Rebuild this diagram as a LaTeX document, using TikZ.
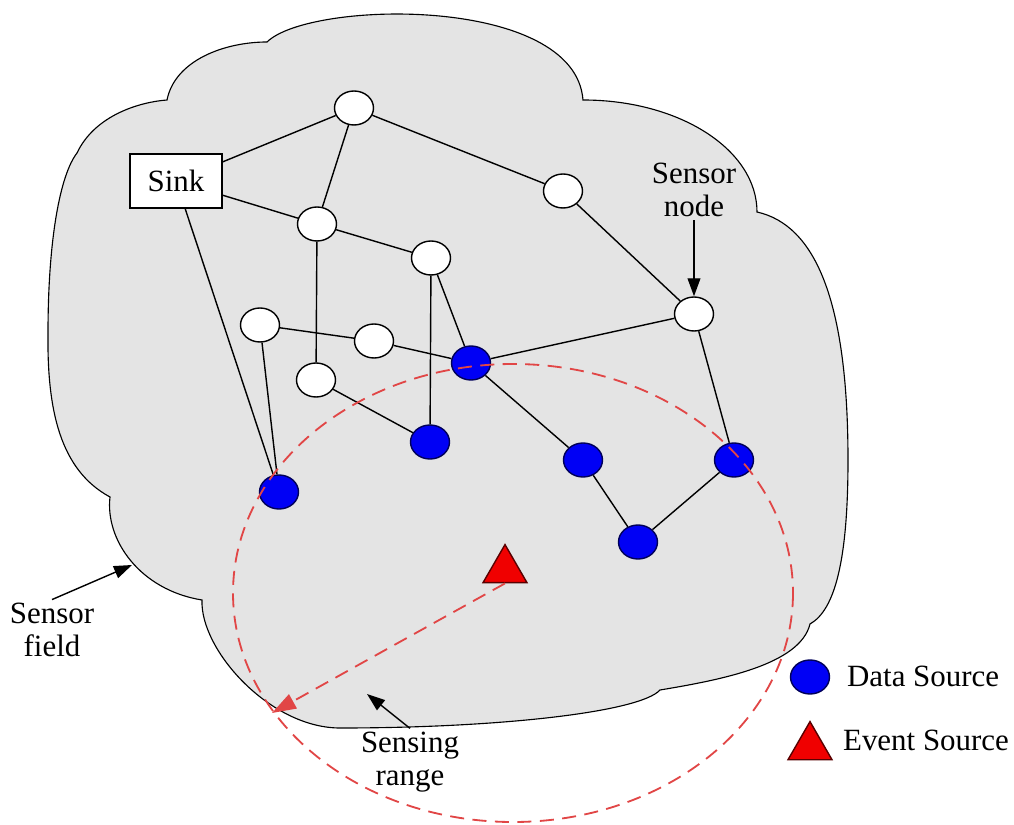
\documentclass[tikz,border=0pt]{standalone}
\usepackage{fontspec}
\setmainfont{Liberation Serif}
\usetikzlibrary{shapes.geometric,arrows.meta}

\definecolor{champ}{RGB}{228,228,228}
\definecolor{bleu}{RGB}{0,0,245}
\definecolor{rouge}{RGB}{240,0,0}
\definecolor{portee}{RGB}{225,70,70}

\begin{document}
\begin{tikzpicture}[x=0.25mm, y=-0.25mm, line width=1pt, font=\fontsize{22}{23.5}\selectfont]
        % Styles des sommets et des flèches
        \tikzstyle{capteur}=[ellipse, draw, fill=white, minimum width=9.75mm, minimum height=8.5mm, inner sep=0pt]
        \tikzstyle{source}=[ellipse, draw=blue!35!black, fill=bleu, minimum width=9.75mm, minimum height=8.5mm, inner sep=0pt]
        \tikzstyle{evenement}=[regular polygon, regular polygon sides=3, draw=red!35!black, fill=rouge, minimum size=12.7mm, inner sep=0pt]
        \tikzstyle{fleche}=[-{Triangle[length=4.5mm, width=3.2mm]}]
        \tikzstyle{etiquette}=[align=center, inner sep=2pt]
        \tikzstyle{portee}=[draw=portee, line width=1.3pt, dash pattern=on 10pt off 6pt]

        \useasboundingbox (0,0) rectangle (1014,825);

        % Champ de capteurs
        \filldraw[fill=champ, line width=0.8pt]
            (267,42) .. controls (310,0) and (575,-5) .. (583,100)
            .. controls (680,100) and (757,150) .. (757,212)
            .. controls (815,225) and (848,300) .. (848,460)
            .. controls (848,560) and (835,610) .. (810,624)
            .. controls (800,665) and (720,680) .. (660,690)
            .. controls (640,712) and (500,728) .. (340,728)
            .. controls (270,728) and (200,650) .. (202,600)
            .. controls (140,590) and (105,540) .. (110,497)
            .. controls (60,470) and (47,410) .. (48,333)
            .. controls (48,240) and (60,175) .. (77,153)
            .. controls (95,115) and (140,102) .. (167,100)
            .. controls (175,60) and (225,42) .. (267,42)
            -- cycle;

        % Nœuds
        \node[draw, fill=white, minimum width=23mm, minimum height=13.5mm, inner sep=0pt] (sink) at (176,181) {Sink};
        \node[capteur] (a) at (354,108) {};
        \node[capteur] (b) at (563,191) {};
        \node[capteur] (c) at (317,224) {};
        \node[capteur] (d) at (431,258) {};
        \node[capteur] (e) at (694,314) {};
        \node[capteur] (f) at (260,325) {};
        \node[capteur] (g) at (374,341) {};
        \node[capteur] (h) at (316,380) {};
        \node[source] (s1) at (471,363) {};
        \node[source] (s2) at (430,442) {};
        \node[source] (s3) at (279,492) {};
        \node[source] (s4) at (583,460) {};
        \node[source] (s5) at (734,460) {};
        \node[source] (s6) at (638,542) {};
        \node[evenement] (ev) at (505,570) {};

        % Liens
        \draw (sink) -- (a);
        \draw (sink) -- (c);
        \draw (sink) -- (s3);
        \draw (a) -- (c);
        \draw (a) -- (b);
        \draw (b) -- (e);
        \draw (c) -- (d);
        \draw (c) -- (h);
        \draw (d) -- (s2);
        \draw (d) -- (s1);
        \draw (f) -- (g);
        \draw (f) -- (s3);
        \draw (g) -- (s1);
        \draw (h) -- (s2);
        \draw (s1) -- (e);
        \draw (s1) -- (s4);
        \draw (s4) -- (s6);
        \draw (s6) -- (s5);
        \draw (s5) -- (e);

        % Portée de détection
        \draw[portee] (513,593) ellipse [x radius=280, y radius=229];
        \coordinate (bord) at (272,713);
        \draw[portee, -{Triangle[length=6mm, width=4mm, fill=portee]}] (ev.south) -- (bord);

        % Étiquettes
        \node[etiquette] (lblnode) at (694,190) {Sensor\\node};
        \draw[fleche] (lblnode.south) -- (e.north);
        \node[etiquette] (lblfield) at (52,630) {Sensor\\field};
        \coordinate (fieldpt) at (132,565);
        \draw[fleche] (lblfield.north) -- (fieldpt);
        \node[etiquette] (lblrange) at (410,762) {Sensing\\range};
        \coordinate (rangept) at (367,694);
        \draw[fleche] (lblrange.north) -- (rangept);

        % Légende
        \node[source] (lgdata) at (810,677) {};
        \node[anchor=west, inner sep=1pt] (txtdata) at (845,676) {Data Source};
        \node[evenement] (lgevent) at (810,747) {};
        \node[anchor=west, inner sep=1pt] (txtevent) at (841,740) {Event Source};
\end{tikzpicture}
\end{document}
